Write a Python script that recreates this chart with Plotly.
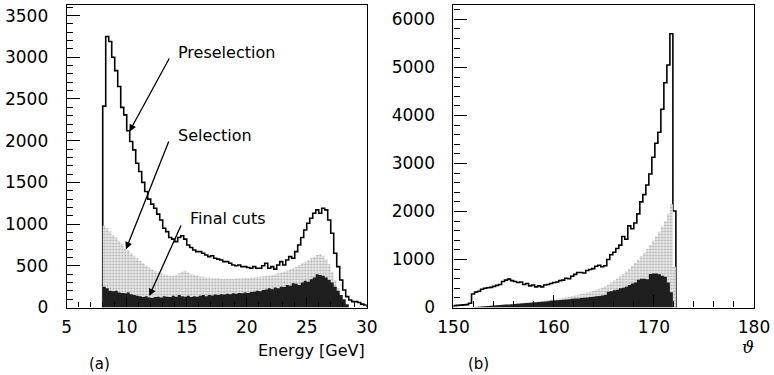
import numpy as np
import plotly.graph_objects as go

# ---------------- data: panel (a) energy ----------------
e_start, e_width = 8.0, 0.25
pre_a = [2415, 3250, 3190, 3000, 2840, 2650, 2400, 2310, 2120, 1990, 1890, 1730,
         1630, 1500, 1390, 1300, 1240, 1190, 1120, 1050, 950, 910, 840, 820,
         790, 840, 860, 820, 750, 720, 690, 670, 670, 650, 630, 610,
         620, 590, 580, 570, 550, 550, 530, 510, 500, 510, 490, 490,
         480, 470, 490, 470, 470, 500, 530, 470, 490, 460, 510, 550,
         510, 570, 610, 590, 670, 750, 840, 930, 1010, 1070, 1130, 1170,
         1130, 1190, 1170, 1050, 890, 650, 490, 330, 210, 130, 90, 70,
         70, 60, 40, 30]
sel_a = [980, 950, 910, 870, 840, 800, 760, 720, 690, 650, 620, 590,
         560, 530, 500, 480, 460, 440, 420, 410, 400, 390, 380, 380,
         390, 410, 430, 440, 420, 400, 390, 380, 370, 370, 360, 360,
         350, 350, 350, 345, 345, 345, 345, 345, 350, 350, 350, 355,
         355, 360, 360, 365, 370, 375, 380, 385, 390, 400, 410, 420,
         430, 445, 460, 475, 490, 510, 530, 550, 570, 590, 610, 630,
         640, 620, 580, 520, 430, 330, 230, 150, 80, 20, 0, 0,
         0, 0, 0, 0]
fin_a = [250, 230, 200, 195, 200, 180, 175, 170, 180, 160, 150, 140,
         135, 125, 135, 120, 115, 125, 130, 120, 135, 130, 125, 140,
         130, 150, 135, 130, 140, 125, 135, 130, 140, 150, 135, 150,
         145, 155, 150, 160, 155, 165, 160, 170, 165, 175, 170, 180,
         175, 185, 190, 200, 195, 210, 215, 230, 220, 240, 230, 250,
         245, 270, 260, 290, 285, 270, 300, 320, 310, 340, 360, 400,
         390, 380, 360, 330, 300, 250, 200, 150, 100, 40, 0, 0,
         0, 0, 0, 0]

# ---------------- data: panel (b) angle ----------------
t_start, t_width = 150.0, 0.3
pre_b = [40, 45, 50, 55, 60, 90, 280, 320, 340, 380, 400, 410,
         420, 440, 460, 480, 540, 570, 590, 560, 540, 520, 530, 480,
         500, 450, 470, 430, 450, 430, 470, 480, 500, 520, 530, 560,
         570, 610, 600, 650, 690, 730, 730, 720, 770, 790, 810, 860,
         880, 850, 870, 1000, 1100, 1150, 1230, 1300, 1480, 1420, 1700, 1640,
         1760, 1950, 2200, 2350, 2550, 2780, 3130, 3420, 3650, 4130, 4680, 5050,
         5700, 2010]
sel_b = [0, 0, 0, 0, 0, 0, 10, 15, 20, 25, 30, 35,
         40, 45, 50, 55, 60, 65, 70, 75, 80, 90, 95, 100,
         105, 110, 115, 120, 130, 135, 140, 150, 160, 170, 180, 190,
         200, 210, 220, 235, 250, 265, 280, 295, 310, 330, 350, 370,
         390, 410, 440, 480, 520, 560, 600, 650, 700, 750, 810, 870,
         930, 1000, 1070, 1140, 1220, 1300, 1390, 1480, 1580, 1690, 1800, 1950,
         2150, 850]
fin_b = [0, 0, 0, 0, 0, 0, 5, 10, 15, 20, 25, 30,
         35, 40, 45, 50, 55, 60, 65, 70, 75, 80, 85, 90,
         95, 100, 105, 110, 115, 120, 125, 130, 140, 145, 150, 155,
         160, 165, 170, 180, 185, 190, 200, 205, 210, 220, 225, 235,
         240, 250, 260, 330, 340, 360, 370, 400, 410, 430, 470, 500,
         520, 580, 600, 600, 590, 700, 710, 710, 690, 660, 640, 520,
         320, 0]


def step_xy(start, width, vals):
    edges = start + width * np.arange(len(vals) + 1)
    xs = np.concatenate([[edges[0]], edges, [edges[-1]]])
    ys = np.concatenate([[0], vals, [vals[-1]], [0]])
    return xs, ys


fig = go.Figure()

for (start, width, pre, sel, fin, xa, ya) in [
        (e_start, e_width, pre_a, sel_a, fin_a, "x", "y"),
        (t_start, t_width, pre_b, sel_b, fin_b, "x2", "y2")]:
    xs, ys = step_xy(start, width, pre)
    fig.add_trace(go.Scatter(x=xs, y=ys, mode="lines", line_shape="hv",
                             line=dict(color="black", width=1.6),
                             xaxis=xa, yaxis=ya, hoverinfo="skip"))
    xs, ys = step_xy(start, width, sel)
    fig.add_trace(go.Scatter(x=xs, y=ys, mode="lines", line_shape="hv",
                             line=dict(color="rgba(0,0,0,0)", width=0),
                             fill="tozeroy", fillcolor="#dedede",
                             fillpattern=dict(shape=".", bgcolor="#e9e9e9",
                                              fgcolor="#acacac", size=3, solidity=0.3),
                             xaxis=xa, yaxis=ya, hoverinfo="skip"))
    xs, ys = step_xy(start, width, fin)
    fig.add_trace(go.Scatter(x=xs, y=ys, mode="lines", line_shape="hv",
                             line=dict(color="rgba(0,0,0,0)", width=0),
                             fill="tozeroy", fillcolor="#1e1e1e",
                             xaxis=xa, yaxis=ya, hoverinfo="skip"))

tickfont = dict(family="DejaVu Sans", size=17, color="black")
common_x = dict(showline=True, linecolor="black", linewidth=1.2, mirror=True,
                showgrid=False, zeroline=False, ticks="inside", tickcolor="black",
                tickfont=tickfont, ticklabelstandoff=4, automargin=False)
common_y = dict(showline=True, linecolor="black", linewidth=1.2, mirror=True,
                showgrid=False, zeroline=False, ticks="inside", tickcolor="black",
                tickfont=tickfont, ticklen=13, ticklabelstandoff=14, automargin=False)

ydom = [0.18, 0.9867]
fig.update_layout(
    template="none",
    width=774, height=375, margin=dict(l=0, r=0, t=0, b=0, autoexpand=False),
    paper_bgcolor="white", plot_bgcolor="white", showlegend=False,
    xaxis=dict(domain=[0.0862, 0.4738], range=[5, 30], tick0=5, dtick=5, ticklen=10,
               minor=dict(ticks="inside", dtick=1, ticklen=5, tickcolor="black"),
               anchor="y", **common_x),
    yaxis=dict(domain=ydom, range=[0, 3627], dtick=500,
               minor=dict(ticks="inside", dtick=100, ticklen=6, tickcolor="black"),
               anchor="x", **common_y),
    xaxis2=dict(domain=[0.5859, 0.9742], range=[150, 180], dtick=10, ticklen=12,
                minor=dict(ticks="inside", dtick=2, ticklen=6, tickcolor="black"),
                anchor="y2", **common_x),
    yaxis2=dict(domain=ydom, range=[0, 6300], dtick=1000,
                minor=dict(ticks="inside", dtick=200, ticklen=6, tickcolor="black"),
                anchor="x2", **common_y),
)

txtfont = dict(family="DejaVu Sans", size=16, color="black")
# labels with arrows on panel (a)
labels = ["Preselection", "Selection", "Final cuts"]
label_pos = [(14.1, 3063), (14.1, 2068), (15.13, 1073)]
arrow_head = [(10.22, 2108), (9.94, 698), (11.88, 138)]
arrow_tail = [(13.61, 3003), (13.55, 2008), (14.58, 1001)]
for lab, (tx, ty), (hx, hy), (ax, ay) in zip(labels, label_pos, arrow_head, arrow_tail):
    fig.add_annotation(x=tx, y=ty, xref="x", yref="y", text=lab, showarrow=False,
                       xanchor="left", yanchor="middle", font=txtfont)
    fig.add_annotation(x=hx, y=hy, ax=ax, ay=ay, xref="x", yref="y", axref="x", ayref="y",
                       text="", showarrow=True, arrowhead=2, arrowsize=1.1,
                       arrowwidth=1.3, arrowcolor="black")

fig.add_annotation(x=366.7 / 774, y=1 - 350 / 375, xref="paper", yref="paper",
                   text="Energy [GeV]", showarrow=False, xanchor="right",
                   yanchor="middle", font=txtfont)
fig.add_annotation(x=100 / 774, y=1 - 364 / 375, xref="paper", yref="paper",
                   text="(a)", showarrow=False, xanchor="center", yanchor="middle",
                   font=dict(family="DejaVu Sans", size=15, color="black"))
fig.add_annotation(x=478 / 774, y=1 - 364 / 375, xref="paper", yref="paper",
                   text="(b)", showarrow=False, xanchor="center", yanchor="middle",
                   font=dict(family="DejaVu Sans", size=15, color="black"))
fig.add_annotation(x=748 / 774, y=1 - 347 / 375, xref="paper", yref="paper",
                   text="<i>ϑ</i>", showarrow=False, xanchor="center", yanchor="middle",
                   font=dict(family="DejaVu Serif", size=17, color="black"))

fig.write_html("out.html")
